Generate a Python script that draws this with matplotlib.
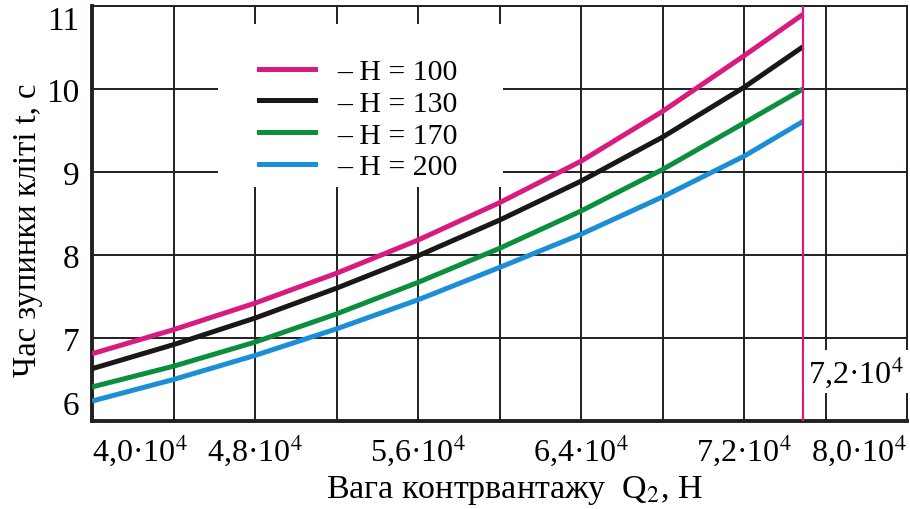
import matplotlib
matplotlib.use("Agg")
import matplotlib.pyplot as plt
from matplotlib.lines import Line2D
from matplotlib.patches import Rectangle

plt.rcParams['font.family'] = ['Liberation Serif', 'DejaVu Serif']
plt.rcParams['mathtext.fontset'] = 'stix'

# ---- data ----
q2 = [40000, 44000, 48000, 52000, 56000, 60000, 64000, 68000, 72000, 74900]
t_h100 = [6.81, 7.10, 7.42, 7.78, 8.18, 8.63, 9.13, 9.73, 10.40, 10.90]
t_h130 = [6.63, 6.92, 7.24, 7.60, 7.99, 8.42, 8.89, 9.42, 10.02, 10.51]
t_h170 = [6.41, 6.66, 6.95, 7.29, 7.67, 8.08, 8.53, 9.03, 9.59, 10.00]
t_h200 = [6.24, 6.50, 6.79, 7.11, 7.46, 7.85, 8.25, 8.70, 9.19, 9.61]
series_labels = ['– H = 100', '– H = 130', '– H = 170', '– H = 200']
series_colors = ['#d81b7f', '#1a1717', '#0b8f3e', '#1b8fd6']

x_ticks = [40000, 48000, 56000, 64000, 72000, 80000]
x_ticklabels = ['4,0·10$^4$', '4,8·10$^4$', '5,6·10$^4$', '6,4·10$^4$', '7,2·10$^4$', '8,0·10$^4$']
x_minor = [44000, 52000, 60000, 68000, 76000]
y_ticks = [6, 7, 8, 9, 10, 11]
limit_q = 74900
limit_label = '7,2·10$^4$'

fig = plt.figure(figsize=(9.1, 5.1), dpi=100)
W, H = 910, 510
ax = fig.add_axes([92 / W, 1 - 422 / H, 815 / W, 415 / H])
ax.set_xlim(40000, 80000)
ax.set_ylim(6, 11)

ax.set_xticks(x_ticks)
ax.set_xticklabels(x_ticklabels, fontsize=23)
ax.set_xticks(x_minor, minor=True)
ax.set_yticks(y_ticks)
ax.set_yticklabels([str(v) for v in y_ticks], fontsize=24)
ax.tick_params(axis='both', which='both', length=0)
ax.tick_params(axis='x', pad=8)
ax.tick_params(axis='y', pad=9)
xl = ax.get_xticklabels()
xl[0].set_ha('left')
xl[-1].set_ha('right')
yl = ax.get_yticklabels()
yl[0].set_va('bottom')
yl[-1].set_va('top')

ax.grid(True, which='both', color='#231f20', linewidth=1.4, zorder=0)
ax.set_axisbelow(True)

for s in ['left', 'bottom']:
    ax.spines[s].set_linewidth(2.8)
for s in ['top', 'right']:
    ax.spines[s].set_linewidth(1.4)
for s in ax.spines.values():
    s.set_color('#231f20')

# white area behind the legend (hides grid lines there)
ax.add_patch(Rectangle(((218 - 92) / 815, (422 - 188) / 415), (503 - 218) / 815,
                       (188 - 25) / 415, transform=ax.transAxes,
                       facecolor='white', edgecolor='none', zorder=1))

series = [t_h100, t_h130, t_h170, t_h200]
for ys, c in zip(series, series_colors):
    ax.plot(q2, ys, color=c, linewidth=3.6, solid_capstyle='butt',
            solid_joinstyle='round', zorder=3)

ax.axvline(limit_q, color=series_colors[0], linewidth=1.6, zorder=4)
ax.text(77500, 6.6, limit_label, fontsize=23, ha='center', va='center', zorder=5,
        bbox=dict(facecolor='white', edgecolor='none', pad=3))

handles = [Line2D([], [], color=c, linewidth=3.6) for c in series_colors]
leg = ax.legend(handles, series_labels, loc='upper left',
                bbox_to_anchor=((225 - 92) / 815, (422 - 25) / 415),
                frameon=False, fontsize=21.5, handlelength=1.87, handletextpad=0.74,
                labelspacing=0.16, borderpad=1.15, borderaxespad=0)
leg.set_zorder(6)

fig.text(514 / W, 1 - 491 / H, 'Вага контрвантажу  Q$_2$, Н', fontsize=24.5,
         ha='center', va='center')
fig.text(28 / W, 1 - 230 / H, 'Час зупинки кліті t, с', fontsize=23.5,
         ha='center', va='center', rotation=90)

fig.savefig('out.png', dpi=100)
